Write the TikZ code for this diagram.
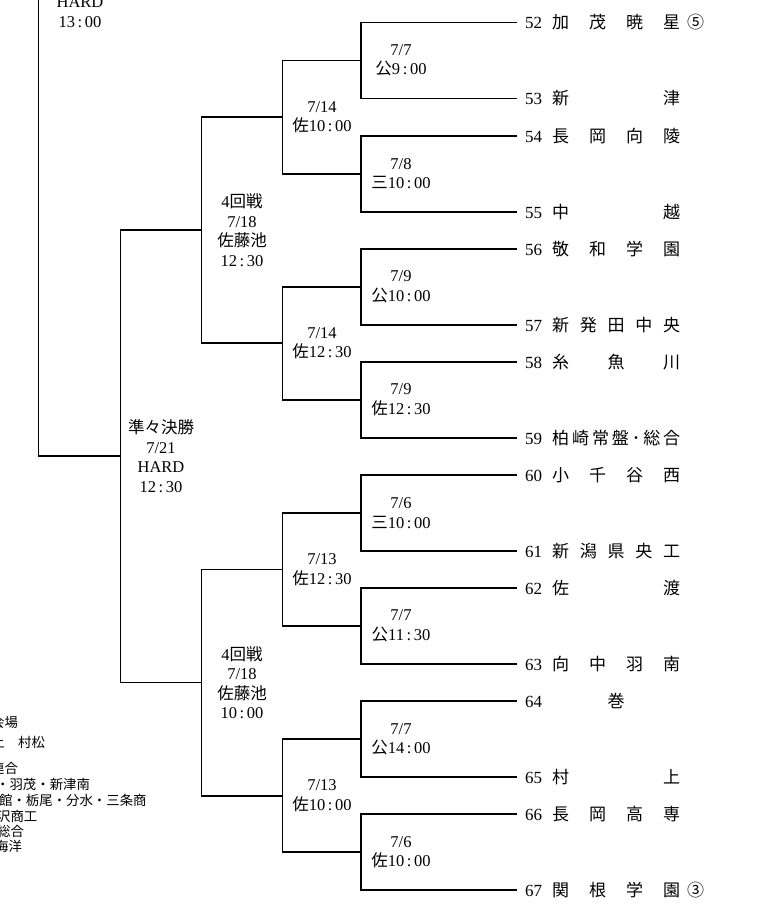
\documentclass[tikz,border=0pt]{standalone}
\usepackage{fontspec}
\setmainfont{Liberation Serif}
\newfontfamily\jp{Noto Sans CJK JP}
\newcommand{\hm}[2]{#1\hspace{2.6pt}:\hspace{2.6pt}#2}
\newcommand{\tname}[3]{#1\hspace{10pt}{\jp\makebox[128pt][s]{#2}\hspace{7pt}#3}}
\tikzset{
  team/.style={anchor=west,inner xsep=8pt,inner ysep=1pt,font=\fontsize{17}{20}\selectfont},
  lbl/.style={align=center,inner sep=0pt,font=\fontsize{16.5}{19.5}\selectfont},
  note/.style={anchor=west,inner sep=0pt,font=\jp\fontsize{13.4}{15}\selectfont},
  bracket/.style={line width=1.8pt,line join=miter}
}
\begin{document}
\begin{tikzpicture}[x=1pt,y=-1pt]
\useasboundingbox (0,0) rectangle (759,921);
\def\yo{22.5}\def\pp{113.1}\def\ww{76}
\def\xa{361}\def\xb{282.5}\def\xc{201.5}\def\xd{120.5}\def\xe{38.5}
% teams
\foreach \n/\nm/\mk [count=\i from 0] in {52/{加\hfill 茂\hfill 暁\hfill 星}/⑤, 53/{新\hfill 津}/{},
    54/{長\hfill 岡\hfill 向\hfill 陵}/{}, 55/{中\hfill 越}/{}, 56/{敬\hfill 和\hfill 学\hfill 園}/{},
    57/{新\hfill 発\hfill 田\hfill 中\hfill 央}/{}, 58/{糸\hfill 魚\hfill 川}/{},
    59/{柏\hfil 崎\hfil 常\hfil 盤\hfil ･\hfil 総\hfil 合}/{}, 60/{小\hfill 千\hfill 谷\hfill 西}/{},
    61/{新\hfill 潟\hfill 県\hfill 央\hfill 工}/{}, 62/{佐\hfill 渡}/{}, 63/{向\hfill 中\hfill 羽\hfill 南}/{},
    64/{\hfill 巻\hfill}/{}, 65/{村\hfill 上}/{}, 66/{長\hfill 岡\hfill 高\hfill 専}/{},
    67/{関\hfill 根\hfill 学\hfill 園}/③}{
  \pgfmathsetmacro\yy{\yo+int(\i/2)*\pp+mod(\i,2)*\ww}
  \node[team] (t\n) at (517,\yy) {\tname{\n}{\nm}{\mk}};
}
% first round
\foreach \k/\dt/\vn/\hh/\mm in {1/{7/7}/公/9/00, 2/{7/8}/三/10/00, 3/{7/9}/公/10/00, 4/{7/9}/佐/12/30,
    5/{7/6}/三/10/00, 6/{7/7}/公/11/30, 7/{7/7}/公/14/00, 8/{7/6}/佐/10/00}{
  \pgfmathsetmacro\yy{\yo+\ww/2+(\k-1)*\pp}
  \pgfmathtruncatemacro\ta{50+2*\k}\pgfmathtruncatemacro\tb{51+2*\k}
  \coordinate (a\k) at (\xa,\yy);
  \draw[bracket] (t\ta.west) -| (a\k) |- (t\tb.west);
  \node[lbl] (la\k) at (401,\yy) {\dt\\{\jp\vn}\hm{\hh}{\mm}};
}
% second round
\foreach \j/\dt/\hh/\mm in {1/{7/14}/10/00, 2/{7/14}/12/30, 3/{7/13}/12/30, 4/{7/13}/10/00}{
  \pgfmathsetmacro\yy{\yo+\ww/2+(2*\j-1.5)*\pp}
  \pgfmathtruncatemacro\pa{2*\j-1}\pgfmathtruncatemacro\pb{2*\j}
  \coordinate (b\j) at (\xb,\yy);
  \draw[bracket] (a\pa) -| (b\j) |- (a\pb);
  \node[lbl] (lb\j) at (322,\yy) {\dt\\{\jp 佐}\hm{\hh}{\mm}};
}
% 4th round
\foreach \m/\hh/\mm in {1/12/30, 2/10/00}{
  \pgfmathsetmacro\yy{\yo+\ww/2+(4*\m-2.5)*\pp}
  \pgfmathtruncatemacro\pa{2*\m-1}\pgfmathtruncatemacro\pb{2*\m}
  \coordinate (c\m) at (\xc,\yy);
  \draw[bracket] (b\pa) -| (c\m) |- (b\pb);
  \node[lbl] (lc\m) at (242,\yy) {4{\jp 回戦}\\7/18\\{\jp 佐藤池}\\\hm{\hh}{\mm}};
}
% quarter final
\coordinate (d) at (\xd,{\yo+\ww/2+3.5*\pp});
\draw[bracket] (c1) -| (d) |- (c2);
\node[lbl] (ld) at (161,{\yo+\ww/2+3.5*\pp}) {{\jp 準々決勝}\\7/21\\HARD\\\hm{12}{30}};
\coordinate (sf) at (\xe,-5);
\draw[bracket] (d) -| (sf);
\node[lbl] (lsf) at (80,12) {HARD\\\hm{13}{00}};
% notes
\node[note] (n1) at (-9,722) {会場};
\node[note] (n2) at (-8.8,742) {上　村松};
\node[note] (n3) at (-9,768) {連合};
\node[note] (n4) at (-4,784) {・羽茂・新津南};
\node[note] (n5) at (-1,800) {館・栃尾・分水・三条商};
\node[note] (n6) at (-3,816) {沢商工};
\node[note] (n7) at (-3,831) {総合};
\node[note] (n8) at (-5,846) {海洋};
\end{tikzpicture}
\end{document}
